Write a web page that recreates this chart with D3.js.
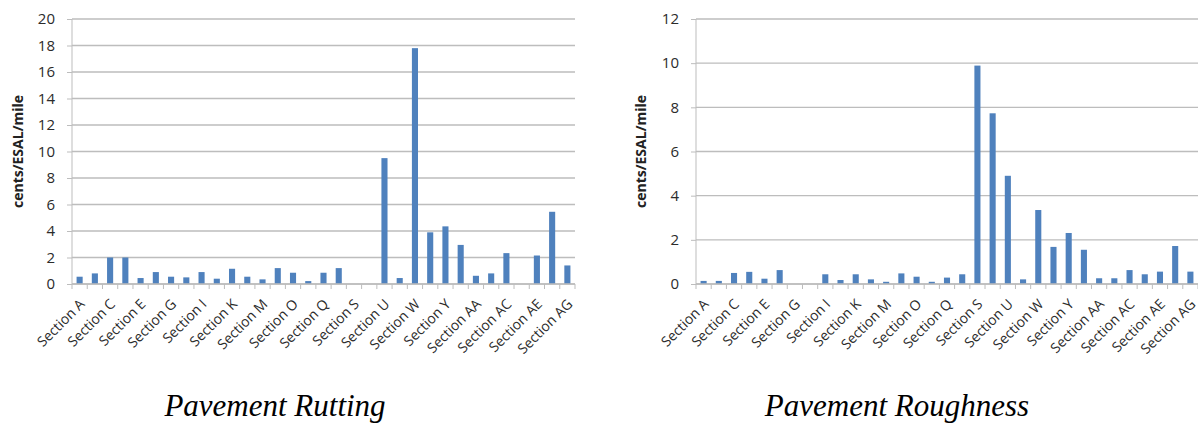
<!DOCTYPE html>
<html>
<head>
<meta charset="utf-8">
<script src="https://cdn.jsdelivr.net/npm/d3@7"></script>
<style>
  body { margin: 0; background: #fff; }
  svg { display: block; }
  .tick text { font-family: "Open Sans", "Liberation Sans", sans-serif; fill: #333; }
</style>
</head>
<body>
<svg id="chart" width="1198" height="424"></svg>
<script>
var sections = ["A","B","C","D","E","F","G","H","I","J","K","L","M","N","O","P","Q","R","S","T","U","V","W","X","Y","Z","AA","AB","AC","AD","AE","AF","AG"]
  .map(function(s) { return "Section " + s; });

var rutting = [0.55, 0.8, 2.0, 2.0, 0.45, 0.9, 0.55, 0.5, 0.9, 0.4, 1.15, 0.55, 0.35, 1.2, 0.85,
               0.22, 0.85, 1.2, 0, 0, 9.5, 0.45, 17.8, 3.9, 4.35, 2.95, 0.62, 0.8, 2.33, 0, 2.15, 5.45, 1.4];

var roughness = [0.14, 0.14, 0.5, 0.55, 0.24, 0.63, 0, 0, 0.44, 0.18, 0.44, 0.21, 0.1, 0.48, 0.33,
                 0.1, 0.29, 0.44, 9.89, 7.73, 4.9, 0.21, 3.35, 1.68, 2.31, 1.55, 0.26, 0.26, 0.63, 0.44, 0.56, 1.72, 0.56];

var rutTicks = [0, 2, 4, 6, 8, 10, 12, 14, 16, 18, 20];
var roughTicks = [0, 2, 4, 6, 8, 10, 12];

var svg = d3.select("#chart");

function drawPanel(values, yMax, ticks, left, right, title, titleX, labelX) {
  var top = 19, bottom = 284;
  var g = svg.append("g");

  var x = d3.scaleBand().domain(sections).range([left, right]).paddingInner(0.6).paddingOuter(0.3);
  var y = d3.scaleLinear().domain([0, yMax]).range([bottom, top]);

  // gridlines
  g.selectAll(".grid").data(ticks).enter().append("line")
    .attr("x1", left).attr("x2", right)
    .attr("y1", function(d) { return y(d); }).attr("y2", function(d) { return y(d); })
    .style("stroke", "#bdbdbd").style("stroke-width", 1.4);

  // y axis
  var yAxis = g.append("g")
    .attr("transform", "translate(" + left + ",0)")
    .call(d3.axisLeft(y).tickValues(ticks).tickSize(5).tickPadding(12).tickFormat(d3.format("d")));
  yAxis.select(".domain").style("stroke", "#bdbdbd").attr("d", "M0," + top + "V" + bottom);
  yAxis.selectAll(".tick line").style("stroke", "#bdbdbd");
  yAxis.selectAll(".tick text").style("font-size", "15px").style("fill", "#2b2b2b");

  // bars
  g.selectAll(".bar").data(values).enter().append("rect")
    .attr("x", function(d, i) { return x(sections[i]); })
    .attr("width", x.bandwidth())
    .attr("y", function(d) { return y(d); })
    .attr("height", function(d) { return bottom - y(d); })
    .style("fill", "#4f81bd");

  // x axis ticks at category boundaries
  var step = (right - left) / sections.length;
  var bounds = d3.range(sections.length + 1);
  g.selectAll(".xtick").data(bounds).enter().append("line")
    .attr("x1", function(d) { return left + d * step; })
    .attr("x2", function(d) { return left + d * step; })
    .attr("y1", bottom).attr("y2", bottom + 5)
    .style("stroke", "#bdbdbd");
  g.append("line").attr("x1", left).attr("x2", right).attr("y1", bottom).attr("y2", bottom)
    .style("stroke", "#bdbdbd").style("stroke-width", 1.4);

  // x labels, every other
  g.selectAll(".xlab").data(sections.filter(function(d, i) { return i % 2 === 0; })).enter().append("text")
    .attr("transform", function(d) {
      return "translate(" + (x(d) + x.bandwidth() / 2 + 6) + "," + (bottom + 21) + ") rotate(-45)";
    })
    .attr("text-anchor", "end")
    .style("font-family", "'Open Sans', 'Liberation Sans', sans-serif")
    .style("font-size", "14px")
    .style("fill", "#2b2b2b")
    .text(function(d) { return d; });

  // y label
  svg.append("text")
    .attr("transform", "translate(" + labelX + "," + ((top + bottom) / 2) + ") rotate(-90)")
    .attr("text-anchor", "middle")
    .style("font-family", "'Open Sans', 'Liberation Sans', sans-serif")
    .style("font-size", "14px")
    .style("font-weight", "bold")
    .style("fill", "#222")
    .text("cents/ESAL/mile");

  // title
  svg.append("text")
    .attr("x", titleX).attr("y", 416)
    .attr("text-anchor", "middle")
    .style("font-family", "'Liberation Serif', 'Times New Roman', serif")
    .style("font-style", "italic")
    .style("font-size", "31px")
    .text(title);
}

drawPanel(rutting, 20, rutTicks, 72, 575, "Pavement Rutting", 275, 23);
drawPanel(roughness, 12, roughTicks, 696, 1198, "Pavement Roughness", 897, 646);
</script>
</body>
</html>
